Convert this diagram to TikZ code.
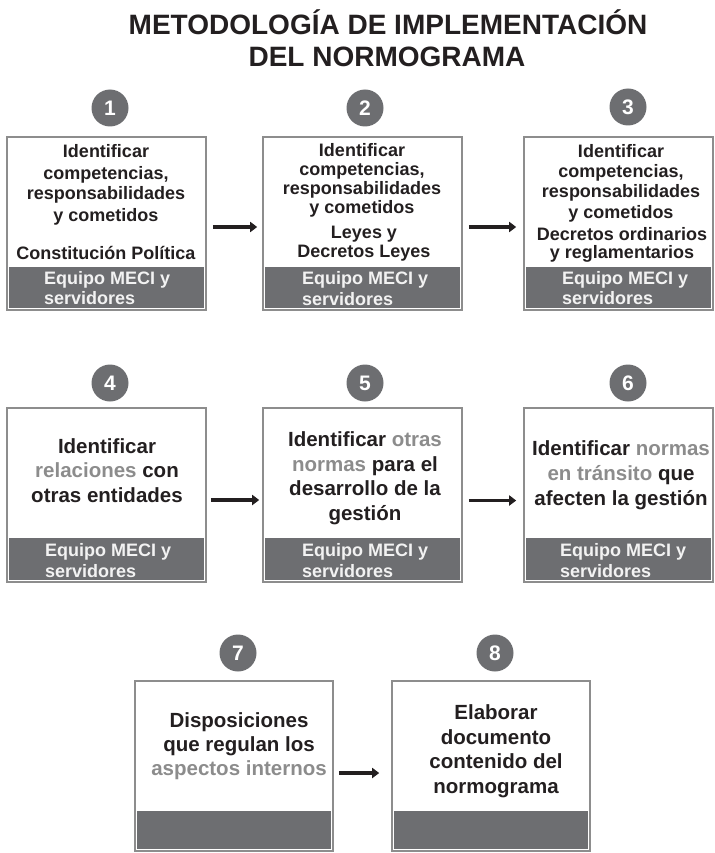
\documentclass[tikz,border=0pt]{standalone}
\usepackage{fontspec}
\setmainfont{Liberation Sans}
\usetikzlibrary{arrows.meta,fit}

\definecolor{ink}{HTML}{231F20}
\definecolor{cardline}{HTML}{8D8D8D}
\definecolor{bandgray}{HTML}{6D6E71}
\definecolor{hl}{HTML}{8C8C8C}
\definecolor{bandtext}{HTML}{F2F2F2}

% one step card: name, left, top, right, band top, bottom (in px, y downwards)
\newcommand\stepcard[6]{%
  \coordinate (#1nw) at (#2,#3);
  \coordinate (#1se) at (#4,#6);
  \node[card, fit=(#1nw)(#1se)] (#1) {};
  \fill[band] (#2+2,#5) rectangle (#4-2,#6-2);
}

\begin{document}
\begin{tikzpicture}[x=1pt,y=-1pt,
  card/.style={draw=cardline, line width=1.6pt, fill=white, inner sep=0pt},
  band/.style={fill=bandgray},
  num/.style={circle, fill=bandgray, minimum size=37pt, inner sep=0pt,
    text=white, font=\fontsize{21}{21}\selectfont\bfseries},
  title/.style={text=ink, inner sep=0pt, font=\fontsize{28}{32}\selectfont\bfseries},
  smalltxt/.style={align=center, text=ink, inner sep=0pt, anchor=base},
  bigtxt/.style={align=center, text=ink, inner sep=0pt, anchor=base},
  team/.style={align=left, text=bandtext, inner sep=0pt, anchor=base west,
    font=\fontsize{18}{20.5}\selectfont\bfseries},
  flow/.style={line width=3.5pt, draw=ink, -{Triangle[length=7pt,width=10pt]}},
]
\useasboundingbox (0,0) rectangle (714,853);

% heading
\node[title, anchor=base] (h1) at (388,35) {METODOLOGÍA DE IMPLEMENTACIÓN};
\node[title, anchor=base] (h2) at (387,67) {DEL NORMOGRAMA};

% cards
\stepcard{b1}{7}{137}{206}{267}{310}
\stepcard{b2}{263}{137}{462}{267}{310}
\stepcard{b3}{524}{137}{713}{267}{310}
\stepcard{b4}{7}{408}{206}{538}{582}
\stepcard{b5}{263}{408}{462}{538}{582}
\stepcard{b6}{524}{408}{713}{538}{582}
\stepcard{b7}{135}{681}{333}{811}{851}
\stepcard{b8}{392}{681}{590}{811}{851}

% step numbers
\node[num] (n1) at (110,108) {1};
\node[num] (n2) at (365,108) {2};
\node[num] (n3) at (628,107) {3};
\node[num] (n4) at (110,383) {4};
\node[num] (n5) at (365,383) {5};
\node[num] (n6) at (628,383) {6};
\node[num] (n7) at (238,653) {7};
\node[num] (n8) at (495,653) {8};

% row 1 texts (nodes sit on the baseline of their last line)
\node[smalltxt, font=\fontsize{18}{21}\selectfont\bfseries] (t1) at (106,221)
  {Identificar\\competencias,\\responsabilidades\\y cometidos};
\node[smalltxt, font=\fontsize{18}{21}\selectfont\bfseries] (s1) at (106,259)
  {Constitución Política};
\node[smalltxt, font=\fontsize{18}{18.7}\selectfont\bfseries] (t2) at (362,213)
  {Identificar\\competencias,\\responsabilidades\\y cometidos};
\node[smalltxt, font=\fontsize{18}{19}\selectfont\bfseries] (s2) at (364,257)
  {Leyes y\\Decretos Leyes};
\node[smalltxt, font=\fontsize{18}{20.3}\selectfont\bfseries] (t3) at (621,218)
  {Identificar\\competencias,\\responsabilidades\\y cometidos};
\node[smalltxt, font=\fontsize{18}{18.5}\selectfont\bfseries] (s3) at (622,258.5)
  {Decretos ordinarios\\y reglamentarios};

% row 2 texts
\node[bigtxt, font=\fontsize{20.5}{24.5}\selectfont\bfseries] (t4) at (107,502)
  {Identificar\\\textcolor{hl}{relaciones} con\\otras entidades};
\node[bigtxt, font=\fontsize{20.5}{24.4}\selectfont\bfseries] (t5) at (365,520)
  {Identificar \textcolor{hl}{otras}\\\textcolor{hl}{normas} para el\\desarrollo de la\\gestión};
\node[bigtxt, font=\fontsize{20.5}{25}\selectfont\bfseries] (t6) at (621,505)
  {Identificar \textcolor{hl}{normas}\\\textcolor{hl}{en tránsito} que\\afecten la gestión};

% row 3 texts
\node[bigtxt, font=\fontsize{20.5}{24}\selectfont\bfseries] (t7) at (239,775)
  {Disposiciones\\que regulan los\\\textcolor{hl}{aspectos internos}};
\node[bigtxt, font=\fontsize{20.5}{24.4}\selectfont\bfseries] (t8) at (496,793)
  {Elaborar\\documento\\contenido del\\normograma};

% team labels in the bands
\node[team] (e1) at (44,304.5) {Equipo MECI y\\servidores};
\node[team] (e2) at (302,305) {Equipo MECI y\\servidores};
\node[team] (e3) at (562,304.5) {Equipo MECI y\\servidores};
\node[team] (e4) at (45,577) {Equipo MECI y\\servidores};
\node[team] (e5) at (302,577) {Equipo MECI y\\servidores};
\node[team] (e6) at (560,577) {Equipo MECI y\\servidores};

% arrows between steps
\draw[flow, shorten <=6pt, shorten >=5pt] ([yshift=-3.5pt]b1.east) -- ([yshift=-3.5pt]b2.west);
\draw[flow, shorten <=6pt, shorten >=7pt] ([yshift=-3.5pt]b2.east) -- ([yshift=-3.5pt]b3.west);
\draw[flow, shorten <=4pt, shorten >=3pt] ([yshift=-5pt]b4.east) -- ([yshift=-5pt]b5.west);
\draw[flow, shorten <=6pt, shorten >=7pt] ([yshift=-5.5pt]b5.east) -- ([yshift=-5.5pt]b6.west);
\draw[flow, shorten <=5pt, shorten >=12pt] ([yshift=-7pt]b7.east) -- ([yshift=-7pt]b8.west);
\end{tikzpicture}
\end{document}
